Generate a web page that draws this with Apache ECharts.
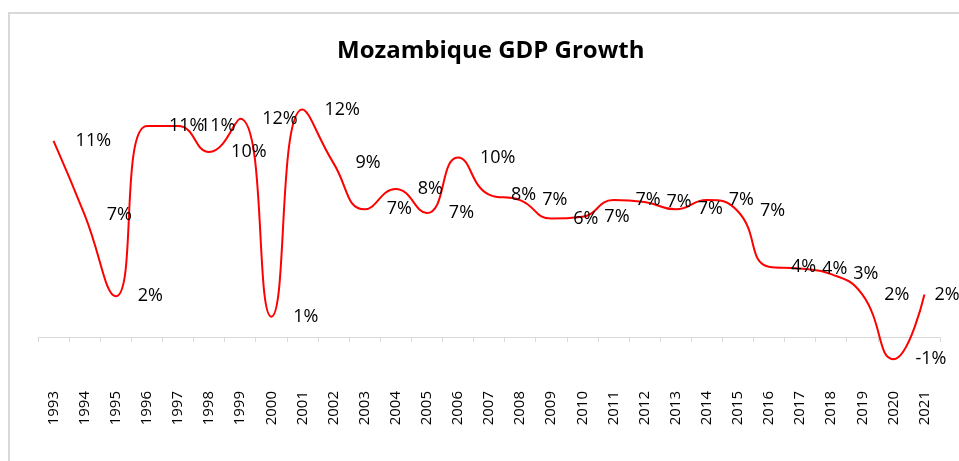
<!DOCTYPE html>
<html>
<head>
<meta charset="utf-8">
<script src="https://cdn.jsdelivr.net/npm/echarts@6/dist/echarts.min.js"></script>
<style>
  html, body { margin: 0; padding: 0; background: #fff; }
  #chart { width: 959px; height: 461px; }
</style>
</head>
<body>
<div id="chart"></div>
<script>
var myChart = echarts.init(document.getElementById('chart'));

// 数据
var years = ['1993', '1994', '1995', '1996', '1997', '1998', '1999', '2000', '2001', '2002',
    '2003', '2004', '2005', '2006', '2007', '2008', '2009', '2010', '2011', '2012',
    '2013', '2014', '2015', '2016', '2017', '2018', '2019', '2020', '2021'];
var growth = [10.6, 6.6, 2.2, 11.4, 11.4, 10.0, 11.8, 1.1, 12.3, 9.4,
    6.9, 8.0, 6.7, 9.7, 7.7, 7.4, 6.4, 6.5, 7.4, 7.3,
    6.9, 7.4, 6.8, 3.8, 3.7, 3.4, 2.3, -1.2, 2.3];

var lineColor = '#d9d9d9';
var textColor = '#000';

// 最后一个标签往左收一点，和原图一样贴着边
var seriesData = growth.map(function (v, i) {
    if (i === growth.length - 1) {
        return { value: v, label: { distance: 10 } };
    }
    return v;
});

var option = {
    backgroundColor: '#fff',
    animation: false,
    title: {
        text: 'Mozambique GDP Growth',
        left: 337,
        top: 39,
        padding: 0,
        textStyle: {
            color: textColor,
            fontFamily: 'Open Sans',
            fontWeight: 'bold',
            fontSize: 24
        }
    },
    graphic: [{
        type: 'rect',
        shape: { x: 9, y: 13, width: 1000, height: 500 },
        style: { fill: 'none', stroke: lineColor, lineWidth: 2 },
        silent: true
    }],
    grid: {
        left: 38,
        right: 19,
        top: 78,
        bottom: 87
    },
    xAxis: {
        type: 'category',
        data: years,
        boundaryGap: true,
        axisLine: {
            onZero: true,
            lineStyle: { color: lineColor, width: 1 }
        },
        axisTick: {
            show: true,
            length: 5,
            lineStyle: { color: lineColor }
        },
        axisLabel: {
            interval: 0,
            rotate: 90,
            margin: 17,
            color: textColor,
            fontFamily: 'Open Sans',
            fontSize: 15
        }
    },
    yAxis: {
        type: 'value',
        min: -2,
        max: 14,
        show: false,
        splitLine: { show: false }
    },
    series: [{
        name: 'GDP Growth',
        type: 'line',
        data: seriesData,
        smooth: 0.5,
        symbol: 'circle',
        symbolSize: 0.1,
        itemStyle: { color: '#ff0000' },
        lineStyle: { color: '#ff0000', width: 2 },
        label: {
            show: true,
            position: 'right',
            distance: 22,
            color: textColor,
            fontFamily: 'Open Sans',
            fontSize: 18,
            formatter: function (p) {
                return Math.round(p.value) + '%';
            }
        }
    }]
};

myChart.setOption(option);
</script>
</body>
</html>
